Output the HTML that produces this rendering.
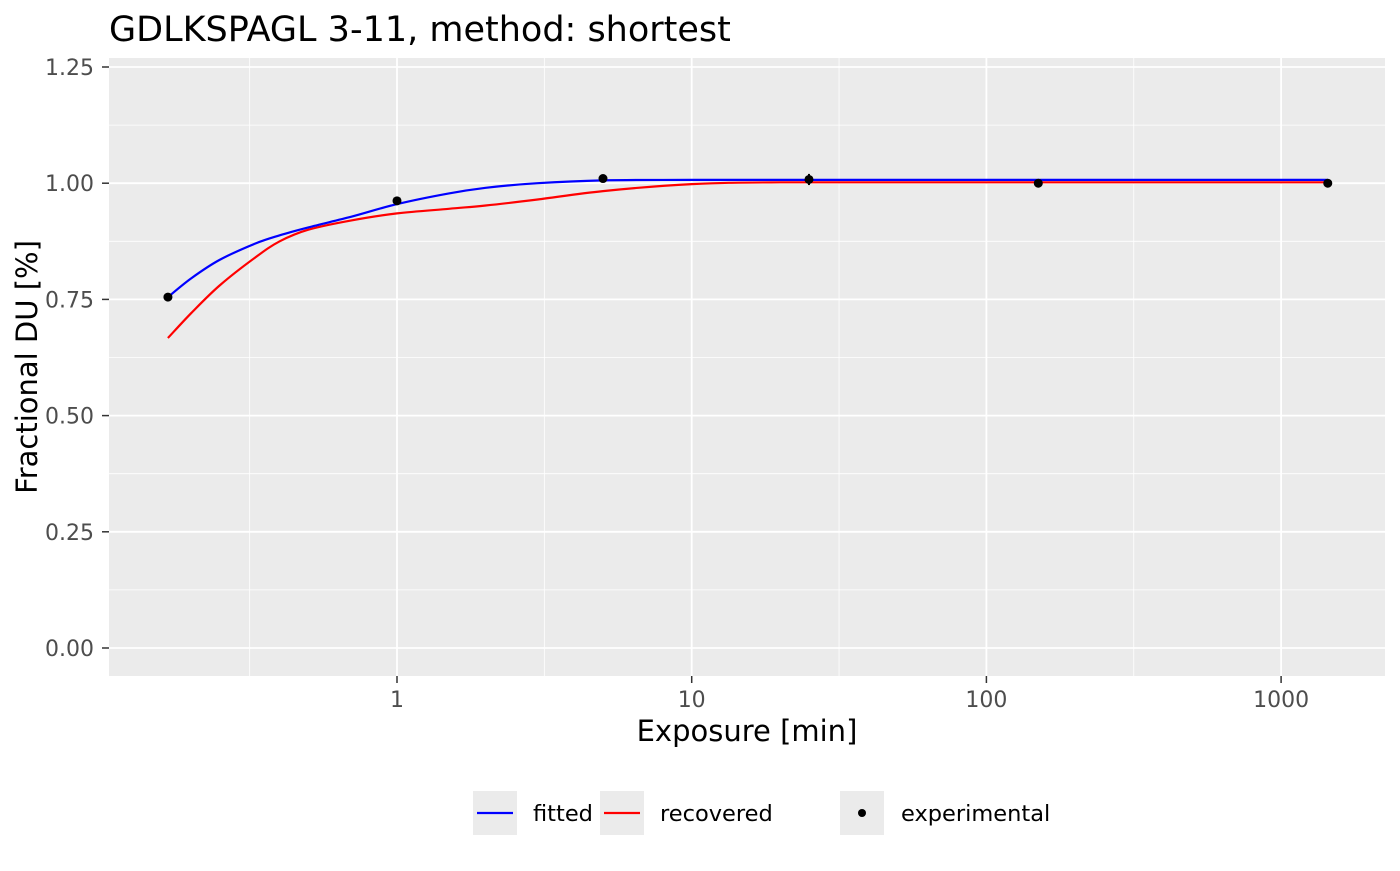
<!DOCTYPE html>
<html><head><meta charset="utf-8"><style>
body{margin:0;background:#fff;font-family:"Liberation Sans","DejaVu Sans",sans-serif}
</style></head><body>
<svg id="c" width="1400" height="866" xmlns="http://www.w3.org/2000/svg" style="font-family:'DejaVu Sans','Liberation Sans',sans-serif">
<text x="109" y="41" font-size="35" fill="#000">GDLKSPAGL 3-11, method: shortest</text>
<rect x="109" y="58" width="1276" height="618" fill="#ebebeb"/>
<g id="grid"></g><g id="marks"></g><g id="axes"></g>
<text x="747" y="741" font-size="29" text-anchor="middle">Exposure [min]</text>
<text transform="translate(37,367) rotate(-90)" font-size="29" text-anchor="middle">Fractional DU [%]</text>
<g>
<rect x="473" y="791" width="44" height="44" fill="#ebebeb"/>
<line x1="477" y1="813" x2="513" y2="813" stroke="#0000ff" stroke-width="2.2"/>
<text x="533" y="821" font-size="22.5">fitted</text>
<rect x="600" y="791" width="44" height="44" fill="#ebebeb"/>
<line x1="604" y1="813" x2="640" y2="813" stroke="#ff0000" stroke-width="2.2"/>
<text x="660" y="821" font-size="22.5">recovered</text>
<rect x="840" y="791" width="44" height="44" fill="#ebebeb"/>
<circle cx="862" cy="813" r="4" fill="#000"/>
<text x="901" y="821" font-size="22.5">experimental</text>
</g>
</svg>
<script>
const yTicks=[0,0.25,0.5,0.75,1,1.25];
const yTickLabels=["0.00","0.25","0.50","0.75","1.00","1.25"];
const xTicks=[1,10,100,1000];
const xTickLabels=["1","10","100","1000"];
const expTimes=[0.167,1,5,25,150,1440];
const expValues=[0.755,0.962,1.010,1.008,1.000,1.000];
const expErr=[0,0,0,0.012,0,0];
const fitTimes=[0.167,0.2,0.25,0.33,0.4,0.5,0.7,1,1.5,2,3,5,10,100,1440];
const fitValues=[0.755,0.795,0.835,0.87,0.888,0.905,0.928,0.955,0.978,0.99,1.0,1.006,1.007,1.007,1.007];
const recTimes=[0.167,0.2,0.25,0.33,0.4,0.5,0.7,1,1.5,2,3,5,10,20,100,1440];
const recValues=[0.667,0.72,0.78,0.84,0.875,0.9,0.92,0.935,0.945,0.952,0.965,0.983,0.998,1.002,1.002,1.002];
const NS="http://www.w3.org/2000/svg";
const X=v=>397+294.7*Math.log10(v);
const Y=v=>648-464.8*v;
function mk(t,a,p){const e=document.createElementNS(NS,t);for(const k in a)e.setAttribute(k,a[k]);p.appendChild(e);return e;}
const g=document.getElementById('grid'),m=document.getElementById('marks'),ax=document.getElementById('axes');
for(let i=0;i<yTicks.length-1;i++){const l=mk('line',{x1:109,x2:1385,y1:Y((yTicks[i]+yTicks[i+1])/2),y2:Y((yTicks[i]+yTicks[i+1])/2),stroke:'#fff','stroke-width':0.8},g);

}
for(let i=0;i<xTicks.length;i++){const l=mk('line',{x1:X(xTicks[i]/Math.sqrt(10)),x2:X(xTicks[i]/Math.sqrt(10)),y1:58,y2:676,stroke:'#fff','stroke-width':0.8},g);

}
yTicks.forEach((v,i)=>{const l=mk('line',{x1:109,x2:1385,y1:Y(v),y2:Y(v),stroke:'#fff','stroke-width':1.8},g);


mk('line',{x1:102,x2:109,y1:Y(v),y2:Y(v),stroke:'#333','stroke-width':1.5},ax);
const t=mk('text',{x:94,y:Y(v)+8,'font-size':22,fill:'#4d4d4d','text-anchor':'end'},ax);t.textContent=yTickLabels[i];

});
xTicks.forEach((v,i)=>{const l=mk('line',{x1:X(v),x2:X(v),y1:58,y2:676,stroke:'#fff','stroke-width':1.8},g);


mk('line',{x1:X(v),x2:X(v),y1:676,y2:683,stroke:'#333','stroke-width':1.5},ax);
const t=mk('text',{x:X(v),y:707,'font-size':22,fill:'#4d4d4d','text-anchor':'middle'},ax);t.textContent=xTickLabels[i];

});
function line(ts,vs,c,name){const P=ts.map((t,i)=>[X(t),Y(vs[i])]);
let d='M'+P[0][0].toFixed(1)+','+P[0][1].toFixed(1);
for(let i=0;i<P.length-1;i++){const p0=P[Math.max(0,i-1)],p1=P[i],p2=P[i+1],p3=P[Math.min(P.length-1,i+2)];
const c1=[p1[0]+(p2[0]-p0[0])/6,p1[1]+(p2[1]-p0[1])/6],c2=[p2[0]-(p3[0]-p1[0])/6,p2[1]-(p3[1]-p1[1])/6];
d+='C'+c1.map(n=>n.toFixed(1)).join(',')+' '+c2.map(n=>n.toFixed(1)).join(',')+' '+p2.map(n=>n.toFixed(1)).join(',');}
const p=mk('path',{d:d,fill:'none',stroke:c,'stroke-width':2.2,'stroke-linejoin':'round'},m);

}
line(recTimes,recValues,'#ff0000','recovered-line');
line(fitTimes,fitValues,'#0000ff','fitted-line');
expTimes.forEach((t,i)=>{if(expErr[i]>0){const e=mk('line',{x1:X(t),x2:X(t),y1:Y(expValues[i]+expErr[i]),y2:Y(expValues[i]-expErr[i]),stroke:'#000','stroke-width':2},m);

}
const c=mk('circle',{cx:X(t),cy:Y(expValues[i]),r:4.5,fill:'#000'},m);

});
</script>
</body></html>
